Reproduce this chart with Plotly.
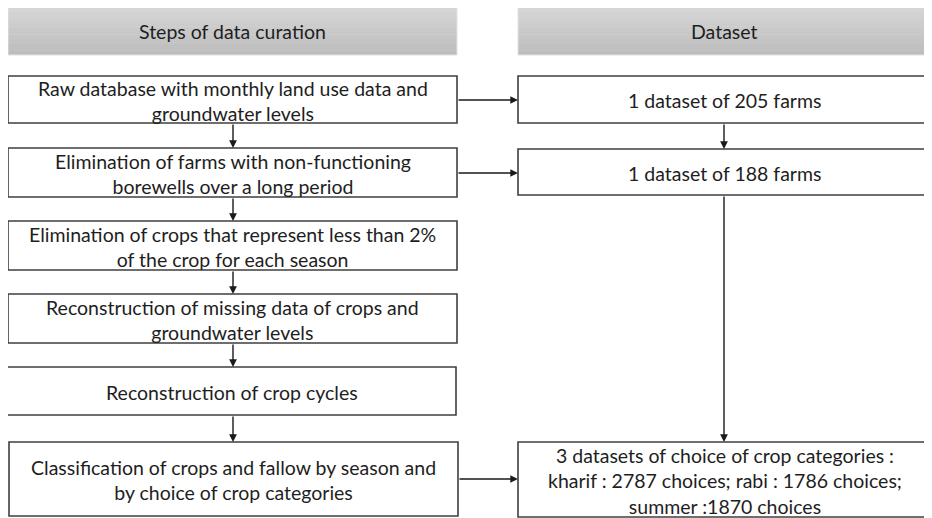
import plotly.graph_objects as go

W, H = 932, 518
PAGE_MARGIN = 8  # default body margin of the html page

# ---- content ----
headers = ["Steps of data curation", "Dataset"]
steps = [
    "Raw database with monthly land use data and<br>groundwater levels",
    "Elimination of farms with non-functioning<br>borewells over a long period",
    "Elimination of crops that represent less than 2%<br>of the crop for each season",
    "Reconstruction of missing data of crops and<br>groundwater levels",
    "Reconstruction of crop cycles",
    "Classification of crops and fallow by season and<br>by choice of crop categories",
]
datasets = [
    "1 dataset of 205 farms",
    "1 dataset of 188 farms",
    "3 datasets of choice of crop categories :<br>kharif : 2787 choices; rabi : 1786 choices;<br>summer :1870 choices",
]
# links: (step index -> dataset index)
step_to_dataset = [(0, 0), (1, 1), (5, 2)]

# ---- layout geometry (page pixels) ----
header_boxes = [(8, 457, 7, 55), (518, 931, 7, 55)]
step_boxes = [
    (8, 457, 76, 123),
    (8, 457, 148, 197),
    (8, 457, 221, 270),
    (8, 457, 294, 343),
    (7, 456, 367, 415),
    (9, 458, 442, 516),
]
dataset_boxes = [
    (518, 931, 76, 123),
    (518, 931, 149, 195),
    (518, 931, 442, 517),
]
link_y = [100, 173, 479]
left_x = 233
right_x = 724

FONT = "Lato, 'Open Sans', sans-serif"
FS = 19.5
TXT = "#1e1e1e"
LINE = "#1a1a1a"
BORDER = "#3f3f3f"

fig = go.Figure()
shapes = []
annotations = []

# gradient headers via thin strips
n = 30
top_c = (0xd6, 0xd6, 0xd6)
bot_c = (0xbc, 0xbc, 0xbc)
for (x0, x1, y0, y1), label in zip(header_boxes, headers):
    h = (y1 - y0) / n
    for i in range(n):
        t = i / (n - 1)
        c = tuple(int(round(top_c[k] + (bot_c[k] - top_c[k]) * t)) for k in range(3))
        shapes.append(dict(type="rect", xref="x", yref="y", x0=x0, x1=x1,
                           y0=y0 + i * h, y1=min(y1, y0 + (i + 1) * h + 0.6),
                           fillcolor="rgb(%d,%d,%d)" % c, line=dict(width=0), layer="below"))
    shapes.append(dict(type="rect", x0=x0, x1=x1, y0=y0, y1=y1,
                       line=dict(color="#e2e2e2", width=1), fillcolor="rgba(0,0,0,0)"))
    annotations.append(dict(x=(x0 + x1) / 2, y=(y0 + y1) / 2, text=label, showarrow=False,
                            font=dict(family=FONT, size=FS, color=TXT)))

for (x0, x1, y0, y1), label in list(zip(step_boxes, steps)) + list(zip(dataset_boxes, datasets)):
    shapes.append(dict(type="rect", x0=x0, x1=x1, y0=y0, y1=y1,
                       line=dict(color=BORDER, width=1.6), fillcolor="white"))
    annotations.append(dict(x=(x0 + x1) / 2, y=(y0 + y1) / 2 + 1, text=label, showarrow=False,
                            font=dict(family=FONT, size=FS, color=TXT)))

def arrow(x0, y0, x1, y1):
    annotations.append(dict(x=x1, y=y1, ax=x0, ay=y0, xref="x", yref="y", axref="x", ayref="y",
                            text="", showarrow=True, arrowhead=2, arrowsize=1.1,
                            arrowwidth=1.4, arrowcolor=LINE, standoff=0, startstandoff=0))

# left column vertical arrows
for i in range(len(step_boxes) - 1):
    arrow(left_x, step_boxes[i][3], left_x, step_boxes[i + 1][2])

# horizontal links
for (si, di), y in zip(step_to_dataset, link_y):
    arrow(step_boxes[si][1], y, dataset_boxes[di][0], y)

# right column vertical arrows
for i in range(len(dataset_boxes) - 1):
    arrow(right_x, dataset_boxes[i][3], right_x, dataset_boxes[i + 1][2])

fig.update_layout(
    width=W - PAGE_MARGIN, height=H - PAGE_MARGIN, margin=dict(l=0, r=0, t=0, b=0),
    paper_bgcolor="white", plot_bgcolor="white",
    xaxis=dict(range=[PAGE_MARGIN, W], visible=False, fixedrange=True),
    yaxis=dict(range=[H, PAGE_MARGIN], visible=False, fixedrange=True),
    shapes=shapes, annotations=annotations, showlegend=False,
)
fig.write_html("out.html")
